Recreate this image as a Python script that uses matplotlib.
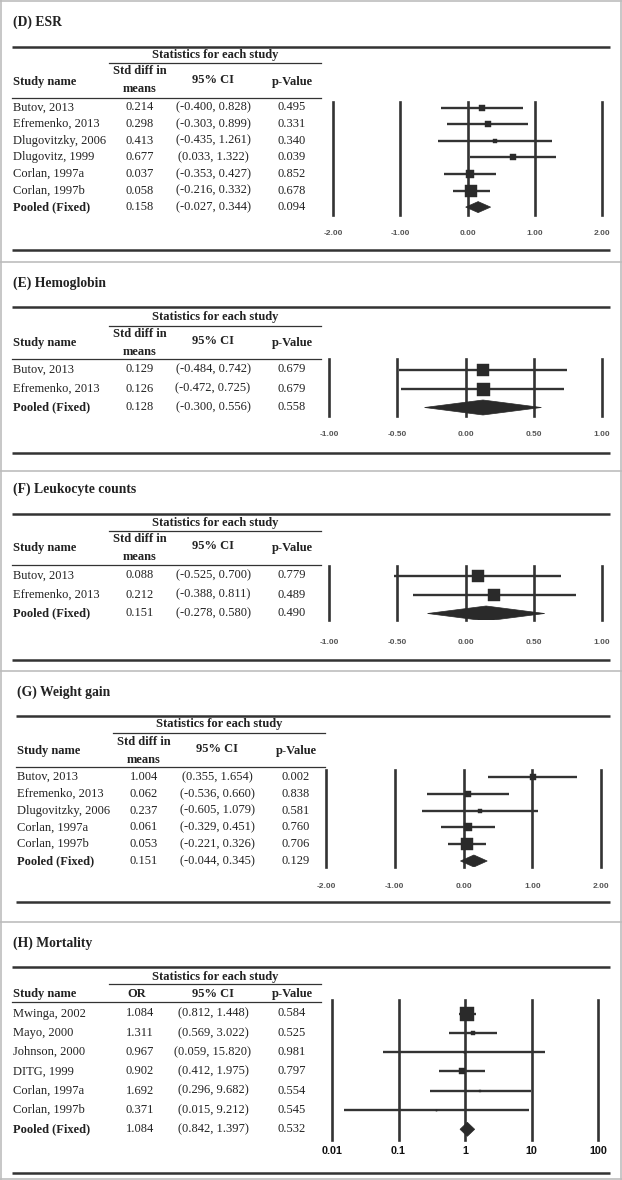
import matplotlib
matplotlib.use("Agg")
import matplotlib.pyplot as plt
import numpy as np
from matplotlib.patches import Polygon
from matplotlib.ticker import NullLocator

# ---------------- data ----------------
esr_names = ["Butov, 2013", "Efremenko, 2013", "Dlugovitzky, 2006", "Dlugovitz, 1999",
             "Corlan, 1997a", "Corlan, 1997b", "Pooled (Fixed)"]
esr_eff = [0.214, 0.298, 0.413, 0.677, 0.037, 0.058, 0.158]
esr_lo = [-0.400, -0.303, -0.435, 0.033, -0.353, -0.216, -0.027]
esr_hi = [0.828, 0.899, 1.261, 1.322, 0.427, 0.332, 0.344]
esr_p = [0.495, 0.331, 0.340, 0.039, 0.852, 0.678, 0.094]
esr_ticks = [-2.0, -1.0, 0.0, 1.0, 2.0]
esr_ticklabels = ["-2.00", "-1.00", "0.00", "1.00", "2.00"]

hb_names = ["Butov, 2013", "Efremenko, 2013", "Pooled (Fixed)"]
hb_eff = [0.129, 0.126, 0.128]
hb_lo = [-0.484, -0.472, -0.300]
hb_hi = [0.742, 0.725, 0.556]
hb_p = [0.679, 0.679, 0.558]
hb_ticks = [-1.0, -0.5, 0.0, 0.5, 1.0]
hb_ticklabels = ["-1.00", "-0.50", "0.00", "0.50", "1.00"]

wbc_names = ["Butov, 2013", "Efremenko, 2013", "Pooled (Fixed)"]
wbc_eff = [0.088, 0.212, 0.151]
wbc_lo = [-0.525, -0.388, -0.278]
wbc_hi = [0.700, 0.811, 0.580]
wbc_p = [0.779, 0.489, 0.490]
wbc_ticks = [-1.0, -0.5, 0.0, 0.5, 1.0]
wbc_ticklabels = ["-1.00", "-0.50", "0.00", "0.50", "1.00"]

wt_names = ["Butov, 2013", "Efremenko, 2013", "Dlugovitzky, 2006", "Corlan, 1997a",
            "Corlan, 1997b", "Pooled (Fixed)"]
wt_eff = [1.004, 0.062, 0.237, 0.061, 0.053, 0.151]
wt_lo = [0.355, -0.536, -0.605, -0.329, -0.221, -0.044]
wt_hi = [1.654, 0.660, 1.079, 0.451, 0.326, 0.345]
wt_p = [0.002, 0.838, 0.581, 0.760, 0.706, 0.129]
wt_ticks = [-2.0, -1.0, 0.0, 1.0, 2.0]
wt_ticklabels = ["-2.00", "-1.00", "0.00", "1.00", "2.00"]

mort_names = ["Mwinga, 2002", "Mayo, 2000", "Johnson, 2000", "DITG, 1999",
              "Corlan, 1997a", "Corlan, 1997b", "Pooled (Fixed)"]
mort_or = [1.084, 1.311, 0.967, 0.902, 1.692, 0.371, 1.084]
mort_lo = [0.812, 0.569, 0.059, 0.412, 0.296, 0.015, 0.842]
mort_hi = [1.448, 3.022, 15.820, 1.975, 9.682, 9.212, 1.397]
mort_p = [0.584, 0.525, 0.981, 0.797, 0.554, 0.545, 0.532]
mort_ticks = [0.01, 0.1, 1, 10, 100]
mort_ticklabels = ["0.01", "0.1", "1", "10", "100"]

# ---------------- layout ----------------
W, H = 622, 1180
fig = plt.figure(figsize=(W / 100, H / 100), dpi=100)
fig.patch.set_facecolor("white")
bg = fig.add_axes([0, 0, 1, 1])
bg.set_xlim(0, W)
bg.set_ylim(H, 0)
bg.axis("off")

SERIF = ["Liberation Serif", "DejaVu Serif"]
SANS = ["Liberation Sans", "DejaVu Sans"]
TXT = "#222222"
LINE = "#333333"
GRAY = "#bdbdbd"
FS = 9.0

# outer frame and panel separators
for xx in (1, 620.5):
    bg.plot([xx, xx], [0, H], color=GRAY, lw=1.2, solid_capstyle="butt")
for yy in (0.8, 1179.2, 262, 471, 671, 922):
    bg.plot([0, W], [yy, yy], color=GRAY, lw=1.2, solid_capstyle="butt")


def panel(title, names, eff, lo, hi, p, ticks, ticklabels, L, log=False, effhead=("Std diff in", "means")):
    ox = L.get("ox", 0)
    # title
    bg.text(13 + ox, L["title"], title, family=SERIF, fontsize=9.8, fontweight="bold",
            color=TXT, va="center", ha="left")
    # thick rules
    for yy in (L["top"], L["bottom"]):
        bg.plot([12 + ox, 610], [yy, yy], color=LINE, lw=1.8, solid_capstyle="butt")
    # statistics header
    bg.text(215 + ox, L["stats"], "Statistics for each study", family=SERIF, fontsize=FS,
            fontweight="bold", color=TXT, va="center", ha="center")
    bg.plot([109 + ox, 321 + ox], [L["sline"], L["sline"]], color=LINE, lw=0.9)
    if len(effhead) == 2:
        bg.text(140 + ox, L["h1"], effhead[0], family=SERIF, fontsize=FS, fontweight="bold",
                color=TXT, va="center", ha="center")
        bg.text(140 + ox, L["h2"], effhead[1], family=SERIF, fontsize=FS, fontweight="bold",
                color=TXT, va="center", ha="center")
    else:
        bg.text(137 + ox, L["hmid"], effhead[0], family=SERIF, fontsize=FS, fontweight="bold",
                color=TXT, va="center", ha="center")
    bg.text(13 + ox, L["hmid"], "Study name", family=SERIF, fontsize=FS, fontweight="bold",
            color=TXT, va="center", ha="left")
    bg.text(213 + ox, L["hmid"] - L.get("cishift", 2), "95% CI", family=SERIF, fontsize=FS,
            fontweight="bold", color=TXT, va="center", ha="center")
    bg.text(292 + ox, L["hmid"], "p-Value", family=SERIF, fontsize=FS, fontweight="bold",
            color=TXT, va="center", ha="center")
    bg.plot([12 + ox, 321 + ox], [L["hline"], L["hline"]], color=LINE, lw=0.9)

    r0, dr = L["rows"]
    n = len(names)
    for i in range(n):
        yy = r0 + i * dr
        wt = "bold" if i == n - 1 else "normal"
        bg.text(13 + ox, yy, names[i], family=SERIF, fontsize=FS, fontweight=wt,
                color=TXT, va="center", ha="left")
        bg.text(140 + ox, yy, "%.3f" % eff[i], family=SERIF, fontsize=FS, color=TXT,
                va="center", ha="center")
        bg.text(213 + ox, yy, "(%.3f, %.3f)" % (lo[i], hi[i]), family=SERIF, fontsize=FS,
                color=TXT, va="center", ha="center")
        bg.text(292 + ox, yy, "%.3f" % p[i], family=SERIF, fontsize=FS, color=TXT,
                va="center", ha="center")

    # forest plot axes
    x0, x1 = L["fx"]
    yt, yb = L["fy"]
    ax = fig.add_axes([x0 / W, 1 - yb / H, (x1 - x0) / W, (yb - yt) / H])
    if log:
        ax.set_xscale("log")
        ax.xaxis.set_minor_locator(NullLocator())
    ax.set_xlim(ticks[0], ticks[-1])
    ax.set_ylim((yb - r0) / dr, (yt - r0) / dr)
    ax.patch.set_alpha(0)
    for s in ax.spines.values():
        s.set_visible(False)
    ax.set_yticks([])
    for t in ticks:
        ax.axvline(t, color=LINE, lw=1.9, clip_on=False, zorder=1)

    e = np.array(eff)
    l = np.array(lo)
    h = np.array(hi)
    widths = (np.log(h) - np.log(l)) if log else (h - l)
    minw = widths[:-1].min()
    for i in range(n - 1):
        ax.plot([l[i], h[i]], [i, i], color=LINE, lw=1.7, zorder=2, solid_capstyle="butt")
        side = L["maxside"] * minw / widths[i]
        ax.plot([e[i]], [i], marker="s", ms=side * 0.72, color="#2a2a2a", mec="#2a2a2a",
                mew=0.3, zorder=3, linestyle="none")
    k = n - 1
    hh = L["dia"] / 2 / dr
    ax.add_patch(Polygon([[l[k], k], [e[k], k - hh], [h[k], k], [e[k], k + hh]],
                         closed=True, facecolor="#2a2a2a", edgecolor="#2a2a2a", lw=0.5, zorder=3))

    ax.set_xticks(ticks)
    if log:
        ax.set_xticklabels(ticklabels, family=SANS, fontsize=7.8, fontweight="bold", color="#111111")
    else:
        ax.set_xticklabels(ticklabels, family=SANS, fontsize=6.0, fontweight="bold", color="#555555")
    ax.tick_params(axis="x", length=0, pad=L["pad"])
    return ax


panel("(D) ESR", esr_names, esr_eff, esr_lo, esr_hi, esr_p, esr_ticks, esr_ticklabels,
      dict(title=22, top=47, bottom=250, stats=55, sline=63, h1=71, h2=89, hmid=82, hline=98,
           rows=(107.5, 16.6), fx=(333, 602), fy=(102, 215), maxside=12, dia=11, pad=10.5))

panel("(E) Hemoglobin", hb_names, hb_eff, hb_lo, hb_hi, hb_p, hb_ticks, hb_ticklabels,
      dict(title=283, top=307, bottom=453, stats=317, sline=326, h1=334, h2=352, hmid=343,
           hline=359, rows=(369.5, 19), fx=(329, 602), fy=(359, 416), maxside=13, dia=15, pad=10.5))

panel("(F) Leukocyte counts", wbc_names, wbc_eff, wbc_lo, wbc_hi, wbc_p, wbc_ticks, wbc_ticklabels,
      dict(title=489, top=514, bottom=660, stats=523, sline=531, h1=539, h2=557, hmid=548,
           hline=565, rows=(575.5, 19), fx=(329, 602), fy=(566, 620), maxside=12.5, dia=15, pad=13.5))

panel("(G) Weight gain", wt_names, wt_eff, wt_lo, wt_hi, wt_p, wt_ticks, wt_ticklabels,
      dict(ox=4, title=692, top=716, bottom=902, stats=724, sline=733, h1=742, h2=760, hmid=751,
           hline=767, rows=(777, 16.8), fx=(326, 601), fy=(770, 867), maxside=12, dia=12, pad=11.5))

panel("(H) Mortality", mort_names, mort_or, mort_lo, mort_hi, mort_p, mort_ticks, mort_ticklabels,
      dict(title=943, top=967, bottom=1173, stats=977, sline=984, hmid=994, cishift=0,
           hline=1002, rows=(1013.5, 19.3), fx=(332, 598), fy=(1000, 1140), maxside=14, dia=14, pad=4.5),
      log=True, effhead=("OR",))

fig.savefig("out.png", dpi=100, facecolor="white")
